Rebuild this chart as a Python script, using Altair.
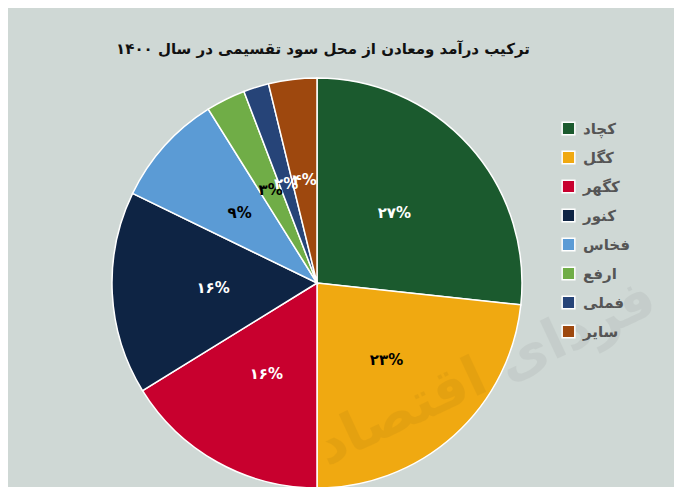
import altair as alt
import pandas as pd

names = ["کچاد", "کگل", "کگهر", "کنور", "فخاس", "ارفع", "فملی", "سایر"]
values = [26.7, 23.3, 16.2, 16.0, 8.9, 3.1, 2.0, 3.8]
labels = ["۲۷%", "۲۳%", "۱۶%", "۱۶%", "۹%", "۳%", "۲%", "۴%"]
colors = ["#1b5a2e", "#f0a911", "#c8002e", "#0e2444", "#5b9bd5", "#70ad47", "#264478", "#9e480e"]
label_colors = ["white", "black", "white", "white", "black", "black", "white", "white"]

title = "ترکیب درآمد ومعادن از محل سود تقسیمی در سال ۱۴۰۰"
watermark = "فردای اقتصاد"

df = pd.DataFrame({
    "name": names,
    "value": values,
    "label": labels,
    "lc": label_colors,
    "idx": list(range(len(names))),
})

BG = "#cfd8d5"
FONT = "DejaVu Sans"
CX, CY, R = 309, 275, 205

base = alt.Chart(df).encode(
    theta=alt.Theta("value:Q", stack=True),
    order=alt.Order("idx:Q", sort="ascending"),
)

pie = base.mark_arc(radius=R, stroke="white", strokeWidth=1.5).encode(
    x=alt.value(CX), y=alt.value(CY),
    color=alt.Color(
        "name:N",
        scale=alt.Scale(domain=names, range=colors),
        sort=names,
        legend=alt.Legend(
            title=None, orient="none", legendX=553, legendY=113,
            symbolType="square", symbolSize=160, symbolStrokeColor="white",
            symbolStrokeWidth=1.5, symbolOpacity=1,
            labelFont=FONT, labelFontSize=15, labelFontWeight="bold",
            labelColor="#555555", rowPadding=10, labelOffset=7,
        ),
    ),
)

text = base.mark_text(radius=104, font=FONT, fontSize=15, fontWeight="bold").encode(
    x=alt.value(CX), y=alt.value(CY),
    text="label:N",
    color=alt.Color("lc:N", scale=None),
)

wm = alt.Chart(pd.DataFrame({"t": [watermark]})).mark_text(
    font=FONT, fontSize=55, fontWeight="bold", angle=335, color="black", opacity=0.045,
).encode(x=alt.value(478), y=alt.value(365), text="t:N")

chart = alt.layer(pie, text, wm).properties(
    width=666, height=479,
    autosize=alt.AutoSizeParams(type="none"),
    padding=0,
    background=BG,
    title=alt.TitleParams(title, font=FONT, fontSize=15, fontWeight="bold",
                          color="#111111", anchor="middle", offset=-49, dx=-18),
).configure_view(stroke=None)

chart.save("out.html", embed_options={"renderer": "svg", "actions": False})
